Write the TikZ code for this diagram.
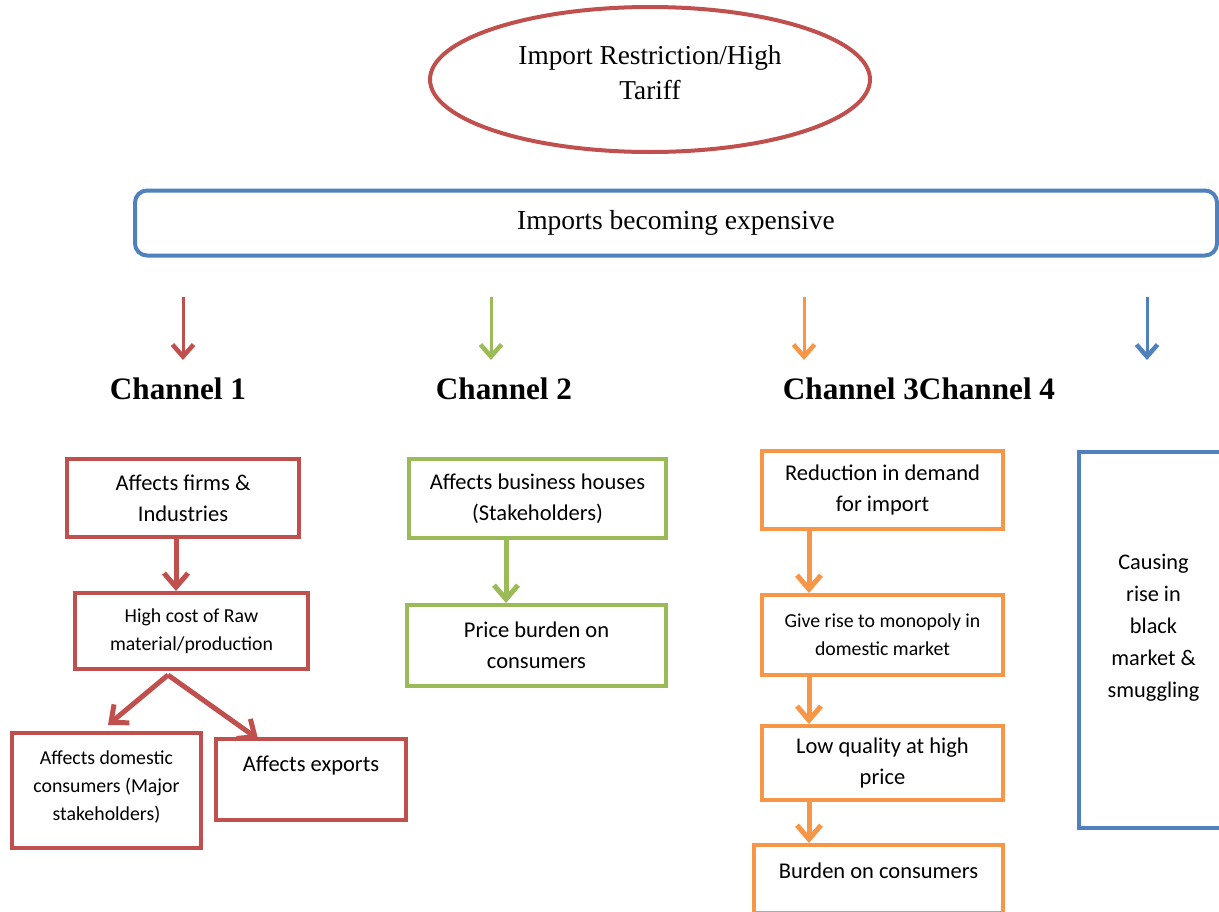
\documentclass[tikz,border=0pt]{standalone}
\usepackage{fontspec}
\setmainfont{Liberation Serif}
\newfontfamily\calfont{Carlito}
\usetikzlibrary{shapes.geometric,arrows.meta}
\definecolor{cred}{HTML}{C0504D}
\definecolor{cgreen}{HTML}{9BBB59}
\definecolor{corange}{HTML}{F79646}
\definecolor{cblue}{HTML}{4F81BD}
\tikzset{
  box/.style={draw, rectangle, line width=4pt, align=center, inner sep=0pt,
    font=\calfont\fontsize{22.5}{31}\selectfont},
  smalltext/.style={font=\calfont\fontsize{19.8}{28}\selectfont},
  head/.style={inner sep=0pt, font=\bfseries\fontsize{31.2}{36}\selectfont},
  toparrow/.style={line width=3pt, -{Straight Barb[length=12pt,width=21pt,line width=4.5pt]}},
  boxarrow/.style={line width=5pt, -{Straight Barb[length=14pt,width=24pt]}},
}
\begin{document}
\begin{tikzpicture}[x=1pt,y=-1pt]
\clip (0,0) rectangle (1219,911);
\fill[white] (0,0) rectangle (1219,911);

% top ellipse
\node[ellipse, draw=cred, line width=4pt, minimum width=440pt, minimum height=145pt,
  align=center, inner sep=0pt, font=\fontsize{27.3}{35}\selectfont] (top) at (650,79.5)
  {Import Restriction/High\\Tariff\\[-21pt]\mbox{}};

% bar
\node[draw=cblue, line width=4pt, rounded corners=12pt, minimum width=1082pt, minimum height=65pt,
  inner sep=0pt, font=\fontsize{27.5}{33}\selectfont] (bar) at (676,223) {Imports becoming expensive};

% headings
\node[head] (h1) at (178,389) {Channel 1};
\node[head] (h2) at (504,389) {Channel 2};
\node[head] (h34) at (919,389) {Channel 3Channel 4};

% top arrows
\coordinate (a1s) at (183,297); \coordinate (a1e) at (183,360);
\coordinate (a2s) at (491,297); \coordinate (a2e) at (491,360);
\coordinate (a3s) at (804,297); \coordinate (a3e) at (804,360);
\coordinate (a4s) at (1147,297); \coordinate (a4e) at (1147,360);
\draw[toparrow, cred] (a1s) -- (a1e);
\draw[toparrow, cgreen] (a2s) -- (a2e);
\draw[toparrow, corange] (a3s) -- (a3e);
\draw[toparrow, cblue] (a4s) -- (a4e);

% channel 1
\node[box, draw=cred, minimum width=232pt, minimum height=78pt] (B1) at (183,498) {Affects firms \&\\Industries};
\node[box, smalltext, draw=cred, minimum width=233pt, minimum height=76pt] (B2) at (191.5,631) {High cost of Raw\\material/production};
\node[box, smalltext, draw=cred, minimum width=189pt, minimum height=115pt] (B3) at (106.5,790.5) {Affects domestic\\consumers (Major\\stakeholders)\\[-18pt]\mbox{}};
\node[box, draw=cred, minimum width=190pt, minimum height=81pt] (B4) at (311,779.5) {Affects exports\\~};

\draw[boxarrow, cred] ([xshift=-7pt]B1.south) -- ([xshift=-7pt]B1.south |- B2.north);
\coordinate (fork) at ([xshift=-23.5pt,yshift=-4pt]B2.south);
\draw[boxarrow, cred] (fork) -- ([xshift=1.5pt,yshift=6pt]B3.north);
\draw[boxarrow, cred] (fork) -- ([xshift=-53pt,yshift=-2pt]B4.north);

% channel 2
\node[box, draw=cgreen, minimum width=257pt, minimum height=79pt] (C1) at (537.5,498.5) {Affects business houses\\(Stakeholders)};
\node[box, draw=cgreen, minimum width=259pt, minimum height=81pt] (C2) at (536.5,645.5) {Price burden on\\consumers};
\draw[boxarrow, cgreen] ([xshift=-31.5pt]C1.south) -- ([xshift=-31.5pt]C1.south |- C2.north);

% channel 3
\node[box, draw=corange, minimum width=241pt, minimum height=78pt] (D1) at (882.5,490) {Reduction in demand\\for import};
\node[box, smalltext, draw=corange, minimum width=241pt, minimum height=80pt] (D2) at (882.5,635) {Give rise to monopoly in\\domestic market};
\node[box, draw=corange, minimum width=241pt, minimum height=74pt] (D3) at (882.5,763) {Low quality at high\\price};
\node[box, draw=corange, minimum width=249pt, minimum height=68pt, text height=17pt, text depth=19pt] (D4) at (878.5,879) {Burden on consumers};
\draw[boxarrow, corange] ([xshift=-73.5pt]D1.south) -- ([xshift=-73.5pt]D1.south |- D2.north);
\draw[boxarrow, corange] ([xshift=-73.5pt]D2.south) -- ([xshift=-73.5pt]D2.south |- D3.north);
\draw[boxarrow, corange] ([xshift=-73.5pt]D3.south) -- ([xshift=-73.5pt]D3.south |- D4.north);

% channel 4
\node[box, draw=cblue, minimum width=149pt, minimum height=376pt, font=\calfont\fontsize{22.3}{32}\selectfont] (E1) at (1153.5,640) {Causing\\rise in\\black\\market \&\\smuggling\\[-4pt]\mbox{}};
\end{tikzpicture}
\end{document}
